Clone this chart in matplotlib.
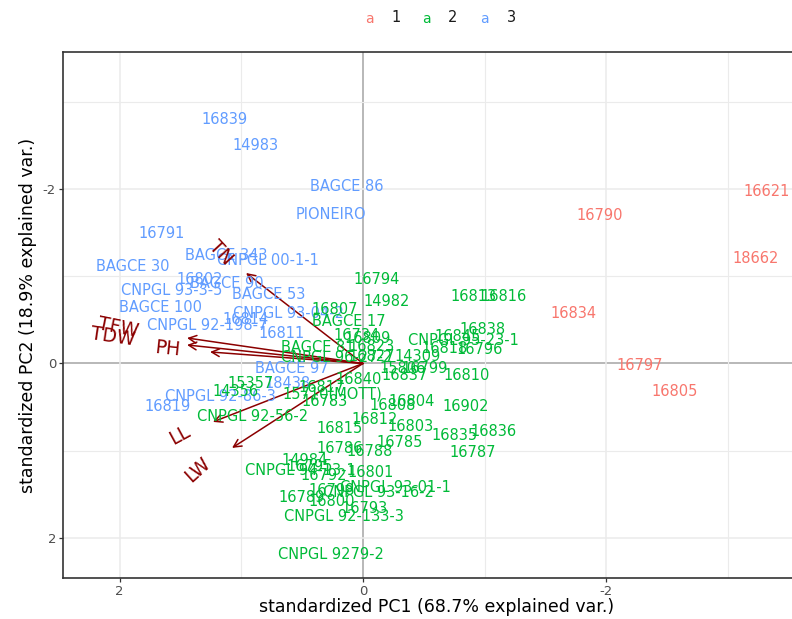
import math
import matplotlib
matplotlib.use("Agg")
import matplotlib.pyplot as plt

plt.rcParams['font.family'] = ['DejaVu Sans']
plt.rcParams['axes.unicode_minus'] = False

# sample scores (standardized PC1 / PC2) and cluster group
names = [
    "16621", "16790", "18662", "16834", "16797", "16805",
    "16839", "14983", "BAGCE 86", "PIONEIRO", "16791", "BAGCE 30", "BAGCE 343",
    "CNPGL 00-1-1", "16802", "BAGCE 90", "CNPGL 93-3-5", "BAGCE 53", "BAGCE 100",
    "CNPGL 93-04-2", "16814", "CNPGL 92-198-7", "16811", "BAGCE 97",
    "CNPGL 92-86-3", "16819", "18438",
    "16794", "14982", "16807", "BAGCE 17", "16813", "16816", "16838",
    "CNPGL 95-23-1", "16845", "16796", "16734", "16809", "BAGCE 81", "16823",
    "16818", "CNPGL 96-27-2", "16827", "14309", "15806", "16799", "16837",
    "16810", "16840", "15357", "14356", "15710(MOTT)", "16817", "16783",
    "CNPGL 92-56-2", "16812", "16804", "16808", "16902", "16815", "16803",
    "16835", "16836", "16785", "16786", "16788", "16787", "14984",
    "CNPGL 94-13-1", "16795", "16792", "16801", "CNPGL 93-01-1",
    "CNPGL 93-16-2", "16798", "16789", "16800", "16793", "CNPGL 92-133-3",
    "CNPGL 9279-2",
]
pc1 = [
    -3.320, -1.947, -3.229, -1.726, -2.276, -2.564,
    1.142, 0.887, 0.131, 0.263, 1.652, 1.890, 1.126,
    0.781, 1.339, 1.118, 1.569, 0.772, 1.660,
    0.616, 0.961, 1.282, 0.666, 0.583,
    1.175, 1.602, 0.624,
    -0.115, -0.197, 0.230, 0.115, -0.912, -1.159, -0.978,
    -0.822, -0.781, -0.961, 0.049, -0.041, 0.370, -0.074,
    -0.674, 0.214, -0.074, -0.452, -0.329, -0.509, -0.345,
    -0.855, 0.033, 0.920, 1.044, 0.255, 0.337, 0.312,
    0.904, -0.099, -0.403, -0.247, -0.846, 0.189, -0.394,
    -0.748, -1.076, -0.304, 0.189, -0.058, -0.904, 0.477,
    0.518, 0.435, 0.320, -0.066, -0.263,
    -0.131, 0.255, 0.501, 0.255, -0.016, 0.156,
    0.263,
]
pc2 = [
    -1.966, -1.691, -1.198, -0.567, 0.029, 0.327,
    -2.791, -2.493, -2.034, -1.702, -1.484, -1.117, -1.232,
    -1.175, -0.957, -0.911, -0.842, -0.785, -0.636,
    -0.567, -0.499, -0.430, -0.338, 0.063,
    0.384, 0.499, 0.224,
    -0.968, -0.705, -0.613, -0.476, -0.762, -0.762, -0.384,
    -0.258, -0.304, -0.155, -0.315, -0.281, -0.178, -0.189,
    -0.166, -0.063, -0.075, -0.075, 0.052, 0.052, 0.143,
    0.143, 0.189, 0.224, 0.327, 0.350, 0.281, 0.441,
    0.613, 0.648, 0.441, 0.487, 0.499, 0.751, 0.728,
    0.831, 0.785, 0.911, 0.980, 1.014, 1.026, 1.117,
    1.226, 1.186, 1.289, 1.255, 1.427,
    1.484, 1.461, 1.542, 1.587, 1.668, 1.759,
    2.195,
]
groups = [1] * 6 + [3] * 21 + [2] * 54

# variable loadings (arrow tips)
var_names = ["TN", "TFW", "TDW", "PH", "LL", "LW"]
var_x = [0.961, 1.446, 1.446, 1.257, 1.233, 1.076]
var_y = [-1.037, -0.292, -0.212, -0.132, 0.670, 0.968]

group_levels = [1, 2, 3]
group_colors = {1: "#F8766D", 2: "#00BA38", 3: "#619CFF"}

fig = plt.figure(figsize=(7.92, 6.19), dpi=100)
ax = fig.add_axes([63 / 792, 41 / 619, (810 - 63) / 792, 526 / 619])

ax.set_xlim(2.465, -3.673)
ax.set_ylim(2.459, -3.570)

ax.set_xticks([2, 0, -2])
ax.set_yticks([-2, 0, 2])
ax.set_xticks([1, -1, -3], minor=True)
ax.set_yticks([-3, -1, 1], minor=True)
ax.grid(True, which='major', color='#EBEBEB', lw=1.1, zorder=0)
ax.grid(True, which='minor', color='#EBEBEB', lw=0.8, zorder=0)
ax.tick_params(which='minor', length=0)
ax.tick_params(which='major', length=3, width=0.9, color='#333333',
               labelsize=9.5, labelcolor='#4D4D4D', pad=2)
for s in ax.spines.values():
    s.set_color('#333333')
    s.set_linewidth(1.2)

ax.axhline(0, color='black', lw=1.3, zorder=1)
ax.axvline(0, color='black', lw=1.3, zorder=1)

# arrows
for vn, vx, vy in zip(var_names, var_x, var_y):
    ax.annotate("", xy=(vx, vy), xytext=(0, 0),
                arrowprops=dict(arrowstyle='->', color='#8B0000', lw=1.1,
                                mutation_scale=14, shrinkA=0, shrinkB=0),
                zorder=2)

# sample labels
for n, x, y, g in zip(names, pc1, pc2, groups):
    ax.text(x, y, n, color=group_colors[g], fontsize=10.5, ha='center',
            va='center', zorder=3, clip_on=True)

# variable labels, pushed out along the arrow
lab_scale = [1.22, 1.39, 1.42, 1.28, 1.22, 1.26]
for vn, vx, vy, k in zip(var_names, var_x, var_y, lab_scale):
    ang = math.degrees(math.atan(vy / vx))
    ax.text(vx * k, vy * k, vn, color='#8B0000', fontsize=13.5,
            rotation=ang, rotation_mode='anchor', ha='center', va='center',
            zorder=4)

ax.set_xlabel("standardized PC1 (68.7% explained var.)", fontsize=12.5,
              labelpad=0)
ax.set_ylabel("standardized PC2 (18.9% explained var.)", fontsize=12.5,
              labelpad=4)

# legend on top
lx = [369, 426, 484]
for g, x in zip(group_levels, lx):
    fig.text(x / 792, 1 - 19 / 619, "a", color=group_colors[g], fontsize=10,
             ha='center', va='center')
    fig.text((x + 27) / 792, 1 - 18 / 619, str(g), color='#1A1A1A',
             fontsize=10.5, ha='center', va='center')

fig.savefig("out.png", dpi=100)
